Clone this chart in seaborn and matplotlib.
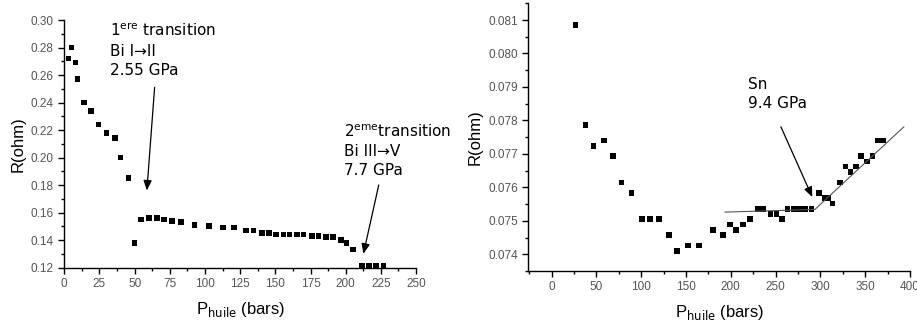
import numpy as np
import pandas as pd
import matplotlib
matplotlib.use("Agg")
import matplotlib.pyplot as plt
import seaborn as sns
from matplotlib.ticker import MultipleLocator, FormatStrFormatter

# Bi data (left)
bi_p = [3, 5, 8, 9.5, 14, 19, 24.4, 30, 36, 40, 45.5, 50, 54.5, 60.4, 66, 71,
        76.5, 83, 92.5, 102.7, 113, 120.5, 129, 134.5, 140.4, 145.4, 150.3,
        155.8, 160, 165.5, 170, 176, 180.6, 186, 191, 196.5, 200.5, 205,
        211.4, 216.4, 221.4, 226.8]
bi_r = [0.272, 0.280, 0.269, 0.257, 0.240, 0.234, 0.224, 0.218, 0.214, 0.200,
        0.185, 0.138, 0.155, 0.156, 0.156, 0.155, 0.154, 0.153, 0.151, 0.150,
        0.149, 0.149, 0.147, 0.147, 0.145, 0.145, 0.144, 0.144, 0.144, 0.144,
        0.144, 0.143, 0.143, 0.142, 0.142, 0.140, 0.138, 0.133, 0.121, 0.121,
        0.121, 0.121]

# Sn data (right)
sn_p = [26.8, 37.9, 46.9, 58.4, 68.8, 78.1, 89.3, 101.1, 110, 119.8, 130.9,
        139.8, 152.5, 164.4, 180.4, 191.2, 199, 205.7, 213.5, 221.7, 229.9,
        236.2, 244.4, 251.1, 257, 263.4, 270.8, 276.9, 282.5, 290.2, 298.7,
        304.7, 308.7, 313.6, 322.1, 328.1, 333.7, 339.6, 345.5, 351.9, 358.3,
        364.2, 370.1]
sn_r = [0.08085, 0.07786, 0.07724, 0.0774, 0.07693, 0.07614, 0.07583, 0.07505,
        0.07505, 0.07505, 0.07457, 0.0741, 0.07426, 0.07426, 0.07473, 0.07457,
        0.07489, 0.07473, 0.07489, 0.07505, 0.07536, 0.07536, 0.0752, 0.0752,
        0.07505, 0.07536, 0.07536, 0.07536, 0.07536, 0.07536, 0.07583, 0.07568,
        0.07568, 0.07552, 0.07614, 0.07662, 0.07646, 0.07662, 0.07693, 0.07677,
        0.07693, 0.0774, 0.0774]

# linear fits on Sn
fit_p = [193.4, 293.9, 393.2]
fit_r = [0.07526, 0.07534, 0.07781]

sns.set_style("ticks")
plt.rcParams['font.family'] = ['Liberation Sans', 'DejaVu Sans']
plt.rcParams['text.color'] = 'black'
plt.rcParams['axes.labelcolor'] = 'black'

fig = plt.figure(figsize=(9.17, 3.23), dpi=100)
ax1 = fig.add_axes([0.0701, 0.1718, 0.3836, 0.7662])
ax2 = fig.add_axes([0.5761, 0.161, 0.4163, 0.8288])

df1 = pd.DataFrame({"P": bi_p, "R": bi_r})
df2 = pd.DataFrame({"P": sn_p, "R": sn_r})

sns.scatterplot(data=df1, x="P", y="R", marker="s", color="black", s=16,
                edgecolor="none", ax=ax1)
sns.scatterplot(data=df2, x="P", y="R", marker="s", color="black", s=16,
                edgecolor="none", ax=ax2)
sns.lineplot(x=fit_p, y=fit_r, color="#555555", lw=0.8, ax=ax2)

ax1.set_xlim(0, 250)
ax1.set_ylim(0.12, 0.30)
ax1.xaxis.set_major_locator(MultipleLocator(25))
ax1.xaxis.set_minor_locator(MultipleLocator(12.5))
ax1.yaxis.set_major_locator(MultipleLocator(0.02))
ax1.yaxis.set_minor_locator(MultipleLocator(0.01))
ax1.yaxis.set_major_formatter(FormatStrFormatter("%.2f"))

ax2.set_xlim(-26, 400)
ax2.set_ylim(0.0735, 0.0815)
ax2.xaxis.set_major_locator(MultipleLocator(50))
ax2.xaxis.set_minor_locator(MultipleLocator(25))
ax2.yaxis.set_major_locator(MultipleLocator(0.001))
ax2.yaxis.set_minor_locator(MultipleLocator(0.0005))
ax2.yaxis.set_major_formatter(FormatStrFormatter("%.3f"))

for ax in (ax1, ax2):
    sns.despine(ax=ax)
    ax.spines["left"].set_linewidth(1.0)
    ax.spines["bottom"].set_linewidth(1.0)
    ax.spines["left"].set_color("black")
    ax.spines["bottom"].set_color("black")
    ax.tick_params(which="major", direction="out", length=4, width=1,
                   labelsize=8.5, labelcolor="#555555", color="black")
    ax.tick_params(which="minor", direction="out", length=2.5, width=1,
                   color="black")
    ax.set_ylabel("R(ohm)", fontsize=12, labelpad=4)
    ax.set_xlabel(r"P$_{\mathrm{huile}}$ (bars)", fontsize=12, labelpad=7)
    ax.grid(False)

ann = dict(fontsize=11, family="DejaVu Sans", linespacing=1.35, va="top",
           ha="left", color="black")
arrow = dict(arrowstyle="-|>,head_length=0.6,head_width=0.25", color="black",
             lw=0.9, shrinkA=0, shrinkB=0)

ax1.text(32.5, 0.2985, "1$^{\\mathrm{ere}}$ transition\nBi I\u2192II\n2.55 GPa", **ann)
ax1.annotate("", xy=(58.7, 0.176), xytext=(64.2, 0.251), arrowprops=arrow)
ax1.text(198.6, 0.2251, "2$^{\\mathrm{eme}}$transition\nBi III\u2192V\n7.7 GPa", **ann)
ax1.annotate("", xy=(212.6, 0.130), xytext=(223.5, 0.180), arrowprops=arrow)

ax2.text(219.4, 0.0793, "Sn\n9.4 GPa", **ann)
ax2.annotate("", xy=(290.9, 0.07571), xytext=(255.9, 0.07781), arrowprops=arrow)

fig.savefig("out.png", dpi=100)
